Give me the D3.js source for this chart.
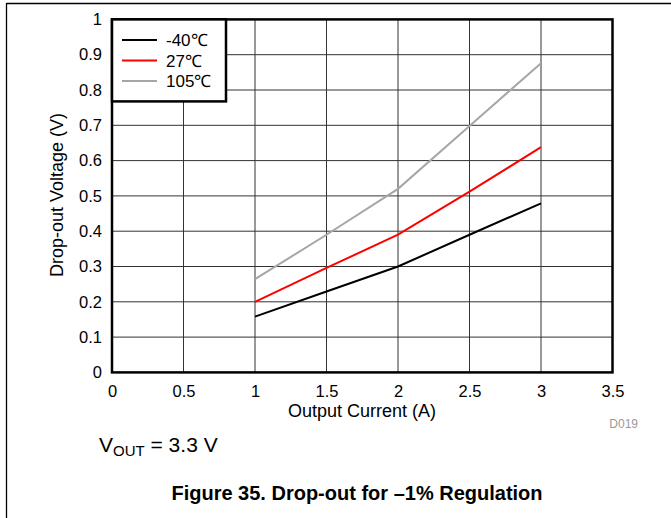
<!DOCTYPE html>
<html><head><meta charset="utf-8">
<script src="https://cdn.jsdelivr.net/npm/d3@7"></script>
<style>body{margin:0;background:#fff}svg{display:block;font-family:Arial,"Liberation Sans",sans-serif}</style>
</head><body>
<svg id="c" width="671" height="518"></svg>
<script>
const current = [1, 1.5, 2, 2.5, 3];
const vMinus40 = [0.158, 0.229, 0.300, 0.390, 0.479];
const v27 = [0.200, 0.296, 0.390, 0.512, 0.638];
const v105 = [0.264, 0.390, 0.520, 0.698, 0.876];
const seriesNames = ["-40℃", "27℃", "105℃"];
const seriesColors = ["#000000", "#ff0000", "#a6a6a6"];
const xTicks = [0, 0.5, 1, 1.5, 2, 2.5, 3, 3.5];
const yTicks = [0, 0.1, 0.2, 0.3, 0.4, 0.5, 0.6, 0.7, 0.8, 0.9, 1];

const svg = d3.select("#c");
const x = d3.scaleLinear().domain([0, 3.5]).range([112, 612.5]);
const y = d3.scaleLinear().domain([0, 1]).range([372.4, 19.4]);

// page border
svg.append("line").attr("x1", 6.5).attr("x2", 671).attr("y1", 3.5).attr("y2", 3.5).attr("stroke", "#000").attr("stroke-width", 1.3);
svg.append("line").attr("x1", 6.5).attr("x2", 6.5).attr("y1", 3).attr("y2", 518).attr("stroke", "#000").attr("stroke-width", 1.3);

// grid
const g = svg.append("g");
g.selectAll(".gx").data(xTicks.slice(1, -1)).join("line")
  .attr("x1", d => x(d)).attr("x2", d => x(d)).attr("y1", y(1)).attr("y2", y(0))
  .attr("stroke", "#333").attr("stroke-width", 1);
g.selectAll(".gy").data(yTicks.slice(1, -1)).join("line")
  .attr("x1", x(0)).attr("x2", x(3.5)).attr("y1", d => y(d)).attr("y2", d => y(d))
  .attr("stroke", "#333").attr("stroke-width", 1);

// series
const series = [vMinus40, v27, v105];
const line = d3.line().x(d => x(d[0])).y(d => y(d[1]));
series.slice().reverse().forEach((s, i) => {
  const idx = 2 - i;
  svg.append("path").datum(current.map((c, j) => [c, s[j]]))
    .attr("d", line).attr("fill", "none").attr("stroke", seriesColors[idx]).attr("stroke-width", 2);
});

// axes with d3
const xAxis = d3.axisBottom(x).tickValues(xTicks).tickSize(0).tickPadding(13).tickFormat(d3.format("~g"));
const gxA = svg.append("g").attr("transform", `translate(0,${y(0)})`).call(xAxis);
gxA.select(".domain").remove();
gxA.selectAll("text").attr("font-size", 16.5).attr("font-family", "Arial,'Liberation Sans',sans-serif").attr("fill", "#000");
const yAxis = d3.axisLeft(y).tickValues(yTicks).tickSize(0).tickPadding(10).tickFormat(d3.format("~g"));
const gyA = svg.append("g").attr("transform", `translate(${x(0)},0)`).call(yAxis);
gyA.select(".domain").remove();
gyA.selectAll("text").attr("font-size", 16.5).attr("font-family", "Arial,'Liberation Sans',sans-serif").attr("fill", "#000");

// plot frame
svg.append("rect").attr("x", x(0)).attr("y", y(1)).attr("width", x(3.5) - x(0)).attr("height", y(0) - y(1))
  .attr("fill", "none").attr("stroke", "#000").attr("stroke-width", 2.5);

// legend
const lg = svg.append("g");
lg.append("rect").attr("x", x(0)).attr("y", y(1)).attr("width", 114).attr("height", 82)
  .attr("fill", "#fff").attr("stroke", "#000").attr("stroke-width", 2.5);
seriesNames.forEach((n, i) => {
  const yy = 40 + i * 20.5;
  lg.append("line").attr("x1", 122).attr("x2", 157).attr("y1", yy).attr("y2", yy)
    .attr("stroke", seriesColors[i]).attr("stroke-width", 2);
  lg.append("text").attr("x", 166).attr("y", yy + 6).attr("font-size", 17).text(n);
});

// titles
svg.append("text").attr("x", 362).attr("y", 417).attr("text-anchor", "middle").attr("font-size", 18).text("Output Current (A)");
svg.append("text").attr("transform", "translate(63,195) rotate(-90)").attr("text-anchor", "middle").attr("font-size", 18).text("Drop-out Voltage (V)");
svg.append("text").attr("x", 638).attr("y", 428).attr("text-anchor", "end").attr("font-size", 12).attr("fill", "#999").text("D019");

const vt = svg.append("text").attr("x", 99).attr("y", 452).attr("font-size", 21);
vt.append("tspan").text("V");
vt.append("tspan").attr("font-size", 15).attr("dy", 4).text("OUT");
vt.append("tspan").attr("dy", -4).text(" = 3.3 V");

svg.append("text").attr("x", 357).attr("y", 500).attr("text-anchor", "middle").attr("font-size", 20).attr("font-weight", "bold").text("Figure 35. Drop-out for –1% Regulation");
</script>
</body></html>
